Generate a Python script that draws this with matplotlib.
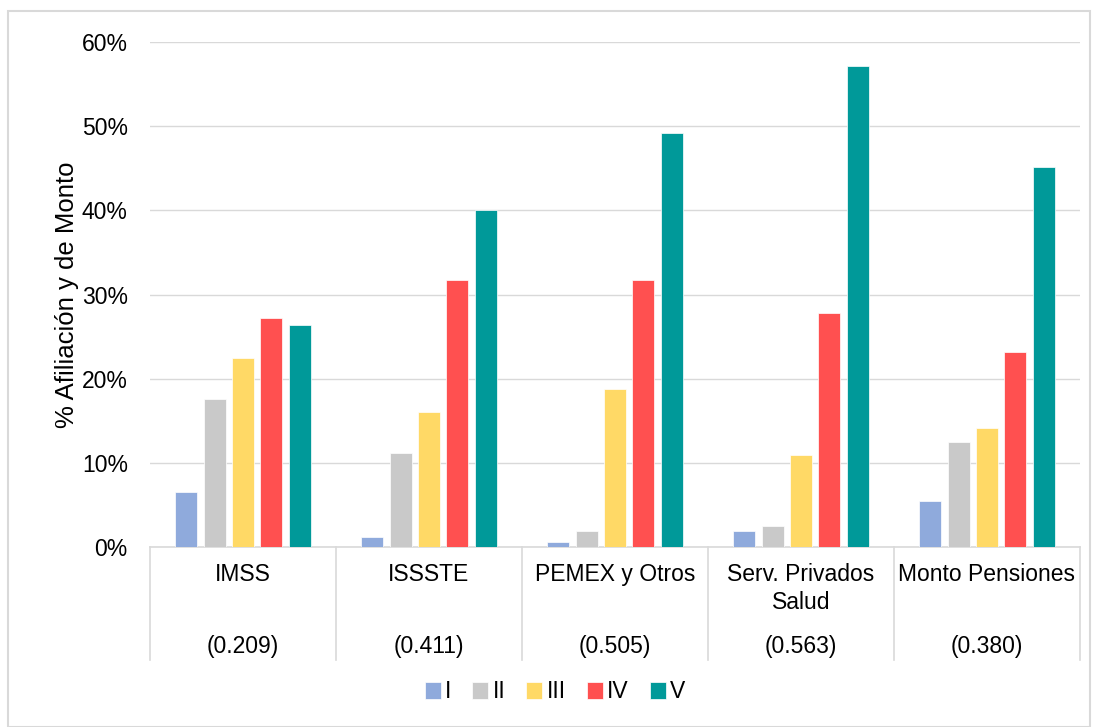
import numpy as np
import matplotlib
matplotlib.use("Agg")
import matplotlib.pyplot as plt
from matplotlib.patches import Rectangle

plt.rcParams['font.family'] = ['Liberation Sans', 'DejaVu Sans']

categorias = ["IMSS", "ISSSTE", "PEMEX y Otros", "Serv. Privados\nSalud", "Monto Pensiones"]
indices = ["(0.209)", "(0.411)", "(0.505)", "(0.563)", "(0.380)"]
series = ["I", "II", "III", "IV", "V"]
valores = {
    "I":   [6.5, 1.2, 0.6, 1.9, 5.5],
    "II":  [17.6, 11.2, 1.9, 2.5, 12.5],
    "III": [22.4, 16.0, 18.8, 10.9, 14.1],
    "IV":  [27.2, 31.7, 31.7, 27.8, 23.2],
    "V":   [26.4, 40.0, 49.2, 57.2, 45.1],
}
colores = ["#8faadc", "#c9c9c9", "#ffd966", "#ff5050", "#009999"]

fig = plt.figure(figsize=(10.96, 7.27), dpi=100)
ax = fig.add_axes([150/1096, 1 - 547/727, 930/1096, 505/727])

x = np.arange(len(categorias))
slot = 0.153
ancho = 0.118
for i, s in enumerate(series):
    ax.bar(x + (i - 2) * slot, np.array(valores[s]) / 100, width=ancho,
           color=colores[i], edgecolor="white", linewidth=0.5, label=s, zorder=3)

ax.set_xlim(-0.5, len(categorias) - 0.5)
ax.set_ylim(0, 0.6)
ax.set_yticks(np.arange(0, 0.61, 0.1))
ax.set_yticklabels([f"{int(round(v*100))}%" for v in np.arange(0, 0.61, 0.1)])
ax.tick_params(axis='y', length=0, labelsize=16.5, pad=16)
ax.set_xticks([])
ax.grid(axis='y', color="#d9d9d9", linewidth=1, zorder=0)
for sp in ["top", "right", "left"]:
    ax.spines[sp].set_visible(False)
ax.spines["bottom"].set_color("#d9d9d9")
ax.spines["bottom"].set_linewidth(1.2)
ax.set_ylabel("% Afiliación y de Monto", fontsize=18.5, labelpad=2)

# separadores y etiquetas de categoria
y_bottom = -(660 - 547) / 505 * 0.6
for k in range(len(categorias) + 1):
    ax.plot([k - 0.5, k - 0.5], [0, y_bottom], color="#d9d9d9", linewidth=1.2, clip_on=False)
for k, (c, idx) in enumerate(zip(categorias, indices)):
    ax.text(k, -0.019, c, ha="center", va="top", fontsize=16.5, linespacing=1.3)
    ax.text(k, -(647 - 547) / 505 * 0.6, idx, ha="center", va="center", fontsize=16.5)

ax.legend(loc="center", bbox_to_anchor=(555/1096, 1 - 692/727), bbox_transform=fig.transFigure,
          ncol=5, frameon=False, fontsize=16.5, handlelength=0.7, handleheight=0.7,
          handletextpad=0.2, columnspacing=0.9, borderaxespad=0)

fig.patches.append(Rectangle((8/1096, 0), 1082/1096, 1 - 11/727, transform=fig.transFigure,
                             fill=False, edgecolor="#d9d9d9", linewidth=1.5))

fig.savefig("out.png", dpi=100)
